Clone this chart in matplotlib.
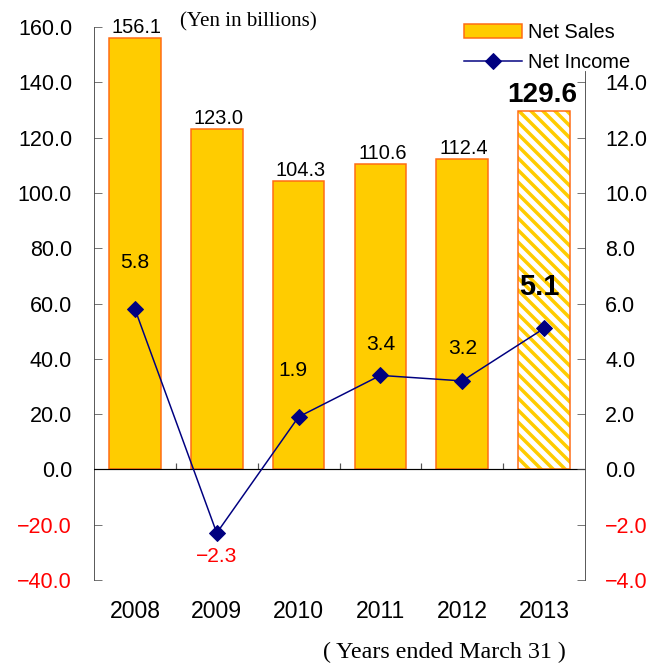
import numpy as np
import matplotlib
matplotlib.use("Agg")
import matplotlib.pyplot as plt
from matplotlib.lines import Line2D
from matplotlib.patches import Patch

# Data
years = ['2008', '2009', '2010', '2011', '2012', '2013']
net_sales = [156.1, 123.0, 104.3, 110.6, 112.4, 129.6]
net_income = [5.8, -2.3, 1.9, 3.4, 3.2, 5.1]
left_ticks = [-40, -20, 0, 20, 40, 60, 80, 100, 120, 140, 160]
right_ticks = [-4, -2, 0, 2, 4, 6, 8, 10, 12, 14]

plt.rcParams['font.family'] = ['Liberation Sans', 'DejaVu Sans']
plt.rcParams['hatch.linewidth'] = 3.5

YELLOW = '#FFCC00'
ORANGE = '#FF6A13'
NAVY = '#000080'

fig = plt.figure(figsize=(653 / 72, 664 / 72), dpi=72)
ax = fig.add_axes([94 / 653, 1 - 580 / 664, 491 / 653, 553 / 664])
ax2 = ax.twinx()

x = np.arange(len(years))
w = 0.63

# bars, last one hatched
for i, v in enumerate(net_sales):
    if i == len(net_sales) - 1:
        ax.bar(x[i], v, w, color='white', edgecolor=YELLOW, hatch='\\\\', linewidth=0)
        ax.bar(x[i], v, w, fill=False, edgecolor=ORANGE, linewidth=1.5)
        ax.annotate(f'{v:.1f}', (x[i], v), xytext=(-2, 3), textcoords='offset points',
                    ha='center', va='bottom', fontsize=28, fontweight='bold')
    else:
        ax.bar(x[i], v, w, color=YELLOW, edgecolor=ORANGE, linewidth=1.5)
        ax.annotate(f'{v:.1f}', (x[i], v), xytext=(2, 1), textcoords='offset points',
                    ha='center', va='bottom', fontsize=20)

ax.set_xlim(-0.5, len(years) - 0.5)
ax.set_ylim(-40, 160)
ax2.set_ylim(-4, 16)

# zero line and category separators
ax.axhline(0, color='black', lw=1.2, zorder=3)
ax.vlines(x[1:] - 0.5, 0, 2.3, color='#555555', lw=1.2)

# net income line
ax2.plot(x, net_income, color=NAVY, lw=1.5, marker='D', markersize=11, zorder=5)
offsets = [(0, 47), (0, -24), (-6, 46), (0, 31), (0, 32), (-5, 41)]
for i, v in enumerate(net_income):
    big = i == len(net_income) - 1
    ax2.annotate(f'{v:.1f}'.replace('-', '\u2212'), (x[i], v), xytext=offsets[i],
                 textcoords='offset points', ha='center', va='center',
                 fontsize=29 if big else 21, fontweight='bold' if big else 'normal',
                 color='red' if v < 0 else 'black')

# axes styling
for a in (ax, ax2):
    a.spines['top'].set_visible(False)
    a.spines['bottom'].set_visible(False)
ax.spines['right'].set_visible(False)
ax.spines['left'].set_color('#333333')
ax2.spines['right'].set_color('#333333')
ax2.spines['left'].set_visible(False)
ax2.spines['right'].set_bounds(-4, 14.4)

ax.set_yticks(left_ticks)
ax.set_yticklabels([f'{t:.1f}'.replace('-', '\u2212') for t in left_ticks])
ax.tick_params(axis='y', direction='in', length=8, color='#555555', labelsize=21.5, pad=22)
for lab, t in zip(ax.get_yticklabels(), left_ticks):
    lab.set_color('red' if t < 0 else 'black')

ax2.set_yticks(right_ticks)
ax2.set_yticklabels([f'{t:.1f}'.replace('-', '\u2212') for t in right_ticks])
ax2.tick_params(axis='y', direction='in', length=8, color='#555555', labelsize=21.5, pad=20)
for lab, t in zip(ax2.get_yticklabels(), right_ticks):
    lab.set_color('red' if t < 0 else 'black')

ax.set_xticks(x)
ax.set_xticklabels(years)
ax.tick_params(axis='x', length=0, labelsize=23, pad=20)

fig.text(180 / 653, 1 - 22 / 664, '(Yen in billions)', family='Liberation Serif',
         fontsize=21, va='center', ha='left')
fig.text(566 / 653, 1 - 652 / 664, '( Years ended March 31 )', family='Liberation Serif',
         fontsize=24, va='center', ha='right')

handles = [Patch(facecolor=YELLOW, edgecolor=ORANGE, linewidth=1.5),
           Line2D([], [], color=NAVY, lw=1.5, marker='D', markersize=11)]
fig.legend(handles, ['Net Sales', 'Net Income'], loc='upper left',
           bbox_to_anchor=(446 / 653, 1 - 5 / 664), frameon=False, fontsize=20,
           handlelength=2.9, handleheight=0.7, handletextpad=0.3, labelspacing=0.55)

fig.savefig('out.png', dpi=72)
